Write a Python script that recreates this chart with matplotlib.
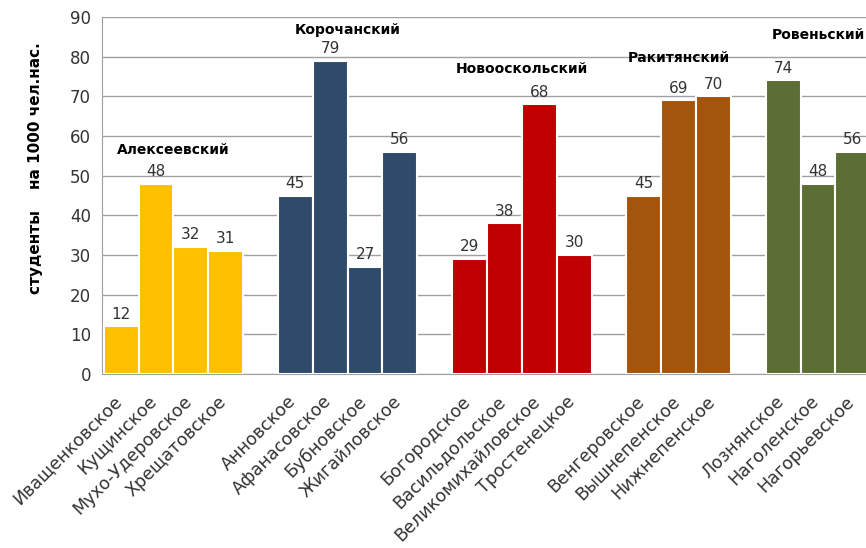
import numpy as np
import matplotlib
matplotlib.use('Agg')
import matplotlib.pyplot as plt
import matplotlib.transforms as mtransforms

# data
districts = ['Алексеевский', 'Корочанский', 'Новооскольский', 'Ракитянский', 'Ровеньский']
settlements = [
    ['Иващенковское', 'Кущинское', 'Мухо-Удеровское', 'Хрещатовское'],
    ['Анновское', 'Афанасовское', 'Бубновское', 'Жигайловское'],
    ['Богородское', 'Васильдольское', 'Великомихайловское', 'Тростенецкое'],
    ['Венгеровское', 'Вышнепенское', 'Нижнепенское'],
    ['Лознянское', 'Наголенское', 'Нагорьевское'],
]
students = [
    [12, 48, 32, 31],
    [45, 79, 27, 56],
    [29, 38, 68, 30],
    [45, 69, 70],
    [74, 48, 56],
]
colors = ['#FFC000', '#2E4B6C', '#C00000', '#A3550C', '#5B6E33']
label_y = [56.5, 86.7, 77, 79.7, 85.5]

fig = plt.figure(figsize=(8.66, 5.48), dpi=100)
# axes runs past the right edge, like the cropped original
ax = fig.add_axes([102 / 866, (548 - 374) / 548, 770 / 866, 357 / 548])

pos = 0
ticks, ticklabels = [], []
for g, names in enumerate(settlements):
    xs = np.arange(pos, pos + len(names))
    ax.bar(xs, students[g], width=1.0, color=colors[g], edgecolor='white', linewidth=1.5, zorder=3)
    for x, v in zip(xs, students[g]):
        ax.text(x, v + 1.2, str(v), ha='center', va='bottom', fontsize=11, color='#333333')
    ax.text(xs.mean(), label_y[g], districts[g], ha='center', va='center',
            fontsize=10, fontweight='bold', color='black')
    ticks.extend(xs)
    ticklabels.extend(names)
    pos += len(names) + 1

ax.set_xlim(-0.55, 21.55)
ax.set_ylim(0, 90)
ax.set_yticks(range(0, 91, 10))
ax.tick_params(axis='y', labelsize=12, colors='#333333', length=0, pad=8)
ax.set_xticks(ticks)
ax.set_xticklabels(ticklabels, rotation=45, ha='right', rotation_mode='anchor',
                   fontsize=12.5, color='#333333')
ax.tick_params(axis='x', length=0, pad=6)
shift = mtransforms.ScaledTranslation(-8 / 100, -10 / 100, fig.dpi_scale_trans)
for lbl in ax.get_xticklabels():
    lbl.set_transform(lbl.get_transform() + shift)

ax.grid(axis='y', color='#a0a0a0', linewidth=1, zorder=0)
for s in ['top', 'right']:
    ax.spines[s].set_visible(False)
ax.spines['left'].set_color('#a0a0a0')
ax.spines['bottom'].set_color('#a0a0a0')

fig.text(36 / 866, 1 - 168 / 548, 'студенты    на 1000 чел.нас.', rotation=90,
         ha='center', va='center', fontsize=11, fontweight='bold')

fig.savefig('out.png', dpi=100)
